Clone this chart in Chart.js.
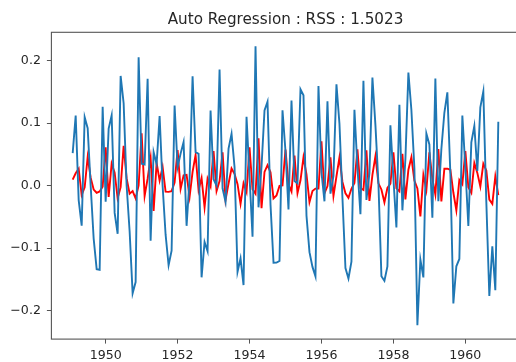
<!DOCTYPE html>
<html><head><meta charset="utf-8">
<script src="https://cdn.jsdelivr.net/npm/chart.js@4"></script>
<style>html,body{margin:0;padding:0;overflow:hidden;background:#fff;width:516px;height:362px}canvas{display:block}</style>
</head><body>
<canvas id="c" width="530" height="362"></canvas>
<script>
const titleText = 'Auto Regression : RSS : 1.5023';
const startYear = 1949, startMonth = 2, monthCount = 143;
const xTickLabels = [1950, 1952, 1954, 1956, 1958, 1960];
const yTickLabels = [-0.2, -0.1, 0.0, 0.1, 0.2];

// log-differenced series (blue)
const logDiff = [
 0.0522, 0.1121,-0.0230,-0.0640, 0.1095, 0.0919, 0.0000,-0.0846,-0.1335,-0.1347, 0.1263,
-0.0258, 0.0914, 0.1125,-0.0435,-0.0770, 0.1756, 0.1319, 0.0000,-0.0732,-0.1722,-0.1542, 0.2054,
 0.0351, 0.0339, 0.1711,-0.0880, 0.0537, 0.0343, 0.1115, 0.0000,-0.0784,-0.1273,-0.1040, 0.1284,
 0.0297, 0.0513, 0.0697,-0.0642, 0.0110, 0.1750, 0.0536, 0.0509,-0.1466,-0.0901,-0.1048, 0.1204,
 0.0103, 0.0000, 0.1857,-0.0042,-0.0259, 0.0593, 0.0829, 0.0299,-0.1377,-0.1162,-0.1589, 0.1103,
 0.0148,-0.0817, 0.2231,-0.0346, 0.0304, 0.1206, 0.1345,-0.0303,-0.1233,-0.1231,-0.1205, 0.1205,
 0.0552,-0.0379, 0.1362, 0.0075, 0.0037, 0.1542, 0.1446,-0.0478,-0.1063,-0.1299,-0.1451, 0.1596,
 0.0214,-0.0250, 0.1349,-0.0127, 0.0158, 0.1622, 0.0992,-0.0196,-0.1318,-0.1485,-0.1215, 0.1215,
 0.0290,-0.0455, 0.1678,-0.0227, 0.0199, 0.1729, 0.0970, 0.0043,-0.1449,-0.1521,-0.1290, 0.0968,
 0.0118,-0.0669, 0.1296,-0.0394, 0.0422, 0.1809, 0.1211, 0.0281,-0.2231,-0.1181,-0.1468, 0.0835,
 0.0660,-0.0513, 0.1715,-0.0249, 0.0588, 0.1167, 0.1493, 0.0199,-0.1884,-0.1289,-0.1172, 0.1122,
 0.0292,-0.0644, 0.0692, 0.0955, 0.0236, 0.1253, 0.1507,-0.0261,-0.1764,-0.0971,-0.1673, 0.1023
];

// AR fitted values (red)
const arFitted = [
 0.0097, 0.0199, 0.0273,-0.0150,-0.0026, 0.0459, 0.0129,-0.0062,-0.0113,-0.0091,-0.0014,
 0.0615,-0.0180, 0.0352, 0.0209,-0.0201,-0.0023, 0.0638, 0.0116,-0.0128,-0.0086,-0.0203, 0.0004,
 0.0837,-0.0165, 0.0113, 0.0444,-0.0403, 0.0364, 0.0083, 0.0300,-0.0094,-0.0098,-0.0087, 0.0050,
 0.0570,-0.0051, 0.0164, 0.0172,-0.0179, 0.0222, 0.0492,-0.0071, 0.0124,-0.0346, 0.0115,-0.0013,
 0.0552,-0.0085, 0.0073, 0.0535,-0.0226, 0.0035, 0.0275, 0.0191, 0.0024,-0.0290, 0.0038,-0.0100,
 0.0616,-0.0057,-0.0130, 0.0760,-0.0361, 0.0220, 0.0329, 0.0214,-0.0205,-0.0156,-0.0003, 0.0004,
 0.0578, 0.0023,-0.0092, 0.0480,-0.0117, 0.0087, 0.0454, 0.0183,-0.0264,-0.0086,-0.0047,-0.0045,
 0.0712,-0.0122,-0.0005, 0.0454,-0.0164, 0.0149, 0.0453, 0.0060,-0.0121,-0.0195,-0.0050, 0.0043,
 0.0581,-0.0041,-0.0067, 0.0567,-0.0242, 0.0174, 0.0472, 0.0038,-0.0060,-0.0265,-0.0036, 0.0031,
 0.0535,-0.0042,-0.0090, 0.0511,-0.0219, 0.0256, 0.0454, 0.0082,-0.0043,-0.0492, 0.0174,-0.0068,
 0.0532, 0.0110,-0.0142, 0.0586,-0.0253, 0.0272, 0.0273, 0.0255,-0.0109,-0.0395, 0.0091, 0.0021,
 0.0552,-0.0025,-0.0113, 0.0362, 0.0205,-0.0012, 0.0351, 0.0244,-0.0222,-0.0291, 0.0148,-0.0152
];

const months = [];
for (let i = 0; i < monthCount; i++) {
  const m0 = startMonth - 1 + i;
  months.push(startYear + Math.floor(m0 / 12) + (m0 % 12) / 12);
}
const toPts = arr => arr.map((v, i) => ({x: months[i], y: v}));

const xSpan = months[months.length - 1] - months[0];
const xMin = months[0] - 0.05 * xSpan, xMax = months[months.length - 1] + 0.05 * xSpan;
const allV = logDiff.concat(arFitted);
const vMin = Math.min(...allV), vMax = Math.max(...allV);
const ySpan = vMax - vMin;
const yMin = vMin - 0.05 * ySpan, yMax = vMax + 0.05 * ySpan;

const FONT = {family: 'DejaVu Sans', size: 12.6};
const TXT = '#262626';

const framePlugin = {
  id: 'frame',
  afterDatasetsDraw(chart) {
    const a = chart.chartArea, ctx = chart.ctx;
    ctx.save();
    ctx.strokeStyle = '#555';
    ctx.lineWidth = 1.1;
    ctx.strokeRect(a.left, a.top, a.right - a.left, a.bottom - a.top);
    ctx.restore();
  },
  afterDraw(chart) {
    const a = chart.chartArea, ctx = chart.ctx;
    ctx.save();
    ctx.fillStyle = TXT;
    ctx.font = '15.2px "DejaVu Sans"';
    ctx.textAlign = 'center';
    ctx.textBaseline = 'middle';
    ctx.fillText(titleText, (a.left + a.right) / 2, 20);
    ctx.restore();
  }
};

new Chart(document.getElementById('c'), {
  type: 'line',
  data: {
    datasets: [
      {data: toPts(logDiff), borderColor: '#1f77b4', borderWidth: 1.9, pointRadius: 0, tension: 0, fill: false},
      {data: toPts(arFitted), borderColor: '#ff0000', borderWidth: 1.9, pointRadius: 0, tension: 0, fill: false}
    ]
  },
  options: {
    responsive: false,
    devicePixelRatio: 1,
    animation: false,
    layout: {padding: {left: 0, right: 10.4, top: 32.3, bottom: 0}},
    plugins: {legend: {display: false}, tooltip: {enabled: false}, title: {display: false}},
    scales: {
      x: {
        type: 'linear', min: xMin, max: xMax,
        afterBuildTicks: s => { s.ticks = xTickLabels.map(v => ({value: v})); },
        afterFit: s => { s.height = 22.9; },
        ticks: {font: FONT, color: TXT, padding: 5, maxRotation: 0, autoSkip: false, callback: v => String(v)},
        grid: {drawOnChartArea: false, drawTicks: true, tickLength: 4.5, tickColor: '#555', tickWidth: 1},
        border: {display: false}
      },
      y: {
        type: 'linear', min: yMin, max: yMax,
        afterBuildTicks: s => { s.ticks = yTickLabels.map(v => ({value: v})); },
        afterFit: s => { s.width = 51.4; },
        ticks: {font: FONT, color: TXT, padding: 6, callback: v => v.toFixed(1).replace('-', '\u2212')},
        grid: {drawOnChartArea: false, drawTicks: true, tickLength: 4.5, tickColor: '#555', tickWidth: 1},
        border: {display: false}
      }
    }
  },
  plugins: [framePlugin]
});
</script>
</body></html>
